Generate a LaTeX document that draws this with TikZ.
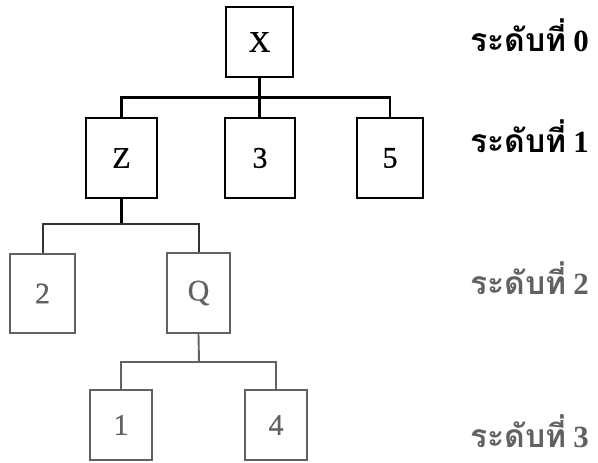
\documentclass[tikz,border=0pt]{standalone}
\usepackage{fontspec}
\setmainfont{Liberation Serif}
\newfontfamily\thaifont[Script=Thai]{Loma}
\newfontfamily\boxfont[FakeBold=0.6]{Liberation Serif}
\definecolor{lowink}{gray}{0.38}
\definecolor{midink}{gray}{0.2}
\tikzset{
  treebox/.style={rectangle, draw, inner sep=0pt, line width=2.2bp,
    font=\boxfont\fontsize{30}{32}\selectfont},
  lowbox/.style={treebox, draw=lowink, text=lowink, line width=1.9bp},
  link/.style={line width=2.2bp},
  lowlink/.style={lowink, line width=1.9bp},
  levellabel/.style={anchor=base west, inner sep=0pt,
    font=\fontsize{31}{34}\selectfont\bfseries}
}
\newcommand{\lvl}[1]{{\thaifont\fontsize{32}{34}\selectfont ระดับที่}\hspace{7bp}#1}
\begin{document}
\begin{tikzpicture}[x=1bp, y=-1bp]
  \useasboundingbox (0,0) rectangle (598,463);

  % level 0
  \node[treebox, minimum width=67bp, minimum height=70bp] (X) at (259.5,42) {X};
  % level 1
  \node[treebox, minimum width=71bp, minimum height=80bp] (Z) at (121.5,158) {Z};
  \node[treebox, minimum width=70bp, minimum height=80bp] (n3) at (260,158) {3};
  \node[treebox, minimum width=66bp, minimum height=80bp] (n5) at (390,158) {5};
  % level 2
  \node[lowbox, minimum width=65bp, minimum height=79bp] (n2) at (42.5,293.5) {2};
  \node[lowbox, minimum width=63bp, minimum height=80bp] (Q) at (198.5,293) {Q};
  % level 3
  \node[lowbox, minimum width=62bp, minimum height=70bp] (n1) at (121,425) {1};
  \node[lowbox, minimum width=62bp, minimum height=70bp] (n4) at (276,425) {4};

  % bus points
  \coordinate (b1) at (259.5,97.5);
  \coordinate (b2) at (121.5,224);
  \coordinate (b3) at (199,362);

  % connectors
  \draw[link] (X.south) -- (X.south |- n3.north);
  \draw[link] (Z.north) |- (b1) -| (n5.north);
  \draw[link] (Z.south) -- (b2);
  \draw[link, midink, line width=2bp] (n2.north) |- (b2) -| (Q.north);
  \draw[lowlink] (Q.south) -- (b3);
  \draw[lowlink] (n1.north) |- (b3) -| (n4.north);

  % level labels
  \node[levellabel] (L0) at (470,52) {\lvl{0}};
  \node[levellabel] (L1) at (470,153) {\lvl{1}};
  \node[levellabel, lowink] (L2) at (470,295) {\lvl{2}};
  \node[levellabel, lowink] (L3) at (470,447) {\lvl{3}};
\end{tikzpicture}
\end{document}
